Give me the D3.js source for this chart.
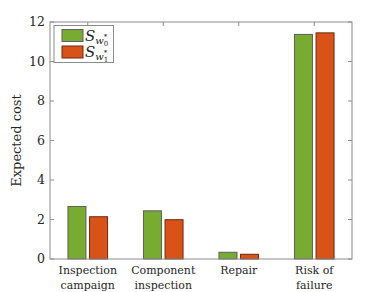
<!DOCTYPE html>
<html>
<head>
<meta charset="utf-8">
<script src="https://cdn.jsdelivr.net/npm/d3@7"></script>
<style>
  body { margin: 0; background: #fff; }
</style>
</head>
<body>
<div id="chart"></div>
<script>
// data
const categories = [["Inspection", "campaign"], ["Component", "inspection"], ["Repair", ""], ["Risk of", "failure"]];
const seriesW0 = [2.66, 2.44, 0.34, 11.37];
const seriesW1 = [2.14, 1.99, 0.24, 11.45];
const yTicks = [0, 2, 4, 6, 8, 10, 12];

const W = 389, H = 292;
const margin = { top: 22, right: 37, bottom: 33, left: 50 };
const width = W - margin.left - margin.right,
      height = H - margin.top - margin.bottom;

const svg = d3.select("#chart").append("svg")
    .attr("width", W).attr("height", H)
    .attr("font-family", "'DejaVu Serif', serif");

const g = svg.append("g")
    .attr("transform", `translate(${margin.left},${margin.top})`);

const x = d3.scaleLinear().domain([0.5, 4.5]).range([0, width]);
const y = d3.scaleLinear().domain([0, 12]).range([height, 0]);

const axisCol = "#8c8c8c";
const barW = 18, gap = 3.6;

// bars
const series = [
  { vals: seriesW0, fill: "#77ac30", stroke: "#5e5e5e", off: -(barW + gap) / 2 },
  { vals: seriesW1, fill: "#d95319", stroke: "#6e2a0c", off: (barW + gap) / 2 }
];
series.forEach(s => {
  g.selectAll(null)
    .data(s.vals)
    .enter().append("rect")
    .attr("x", (d, i) => x(i + 1) + s.off - barW / 2)
    .attr("y", d => y(d))
    .attr("width", barW)
    .attr("height", d => y(0) - y(d))
    .attr("fill", s.fill)
    .attr("stroke", s.stroke)
    .attr("stroke-width", 1);
});

// box + ticks
g.append("rect")
  .attr("width", width).attr("height", height)
  .attr("fill", "none").attr("stroke", axisCol).attr("stroke-width", 1);

const tl = 4;
g.selectAll(".ytl").data(yTicks).enter().append("line")
  .attr("x1", 0).attr("x2", tl).attr("y1", d => y(d)).attr("y2", d => y(d))
  .attr("stroke", axisCol);
g.selectAll(".ytr").data(yTicks).enter().append("line")
  .attr("x1", width).attr("x2", width - tl).attr("y1", d => y(d)).attr("y2", d => y(d))
  .attr("stroke", axisCol);
g.selectAll(".xtt").data(categories).enter().append("line")
  .attr("x1", (d, i) => x(i + 1)).attr("x2", (d, i) => x(i + 1))
  .attr("y1", 0).attr("y2", tl)
  .attr("stroke", axisCol);

// y tick labels
g.selectAll(".ylab").data(yTicks).enter().append("text")
  .attr("x", -5).attr("y", d => y(d)).attr("dy", "0.35em")
  .attr("text-anchor", "end").attr("font-size", 12.5).attr("fill", "#262626")
  .text(d => d);

// x tick labels
categories.forEach((c, i) => {
  c.forEach((line, j) => {
    g.append("text")
      .attr("x", x(i + 1)).attr("y", height + 15 + j * 15)
      .attr("text-anchor", "middle").attr("font-size", 11).attr("fill", "#262626")
      .text(line);
  });
});

// y axis label
g.append("text")
  .attr("transform", "rotate(-90)")
  .attr("x", -height / 2).attr("y", -29)
  .attr("text-anchor", "middle").attr("font-size", 13).attr("fill", "#262626")
  .text("Expected cost");

// legend
const lg = g.append("g").attr("transform", "translate(4,3.5)");
lg.append("rect").attr("width", 59.5).attr("height", 37)
  .attr("fill", "#fff").attr("stroke", axisCol);
const legendItems = [
  { fill: "#77ac30", stroke: "#5e5e5e", sub: "0" },
  { fill: "#d95319", stroke: "#6e2a0c", sub: "1" }
];
legendItems.forEach((d, i) => {
  const yy = 4 + i * 16.5;
  lg.append("rect").attr("x", 8).attr("y", yy).attr("width", 21).attr("height", 12)
    .attr("fill", d.fill).attr("stroke", d.stroke);
  const t = lg.append("text").attr("x", 31).attr("y", yy + 11)
    .attr("fill", "#262626").attr("font-size", 15).attr("font-style", "italic");
  t.append("tspan").text("S");
  t.append("tspan").attr("font-size", 10).attr("dy", 3).text("w");
  t.append("tspan").attr("font-size", 7).attr("dy", -5).text("*");
  t.append("tspan").attr("font-size", 7).attr("dx", -3.5).attr("dy", 7).attr("font-style", "normal").text(d.sub);
});
</script>
</body>
</html>
